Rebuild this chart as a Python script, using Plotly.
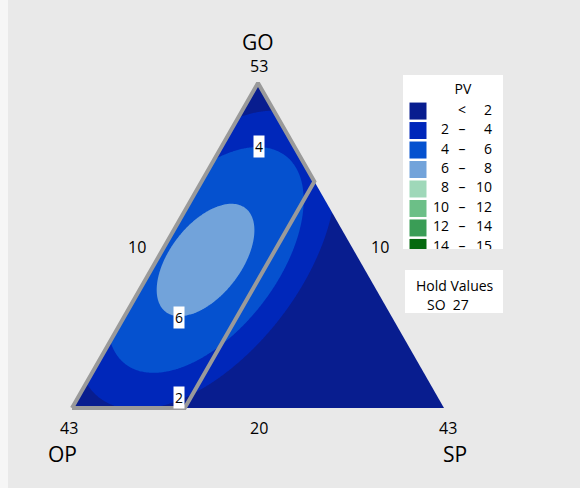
import numpy as np
import plotly.graph_objects as go

# Mixture design: OP + SP + GO with SO held constant
components = ["OP", "SP", "GO"]
lower = [10, 10, 20]          # lower bounds (%)
upper = [43, 43, 53]          # upper bounds (%)
hold_name = "SO"
hold_value = 27
sp_limit = 20                 # SP upper limit of the constrained region

# Fitted Scheffé quadratic model for PV (pseudo-components OP, SP, GO)
b_linear = [0.448, -34.03, -0.205]
b_op_sp = 53.14
b_op_go = 22.55
b_sp_go = 65.35

# Contour bands
band_edges = [2, 4, 6, 8, 10, 12, 14, 15]
band_colors = ["#081d8f", "#0027ba", "#0551cf", "#72a3da",
               "#9fd8b9", "#6cbf87", "#3a9d56", "#05690f"]
contour_labels = [4, 6, 2]

BG = "#e9e9e9"
FONT = "Open Sans"
INK = "#000000"

span = (100 - hold_value) - sum(lower)   # 33


def to_plane(op, sp, go_):
    """Real composition -> ternary plane (u horizontal, v = GO pseudo)."""
    x2 = (sp - lower[1]) / span
    x3 = (go_ - lower[2]) / span
    return x2 + x3 / 2.0, x3


def pv_model(x1, x2, x3):
    return (b_linear[0] * x1 + b_linear[1] * x2 + b_linear[2] * x3
            + b_op_sp * x1 * x2 + b_op_go * x1 * x3 + b_sp_go * x2 * x3)


# Evaluate the fitted surface over the plane
u = np.linspace(0.0, 1.0, 401)
v = np.linspace(0.0, 1.0, 401)
U, V = np.meshgrid(u, v)
X3 = V
X2 = U - V / 2.0
X1 = 1.0 - X2 - X3
Z = pv_model(X1, X2, X3)

n_levels = len(band_edges) - 1
colorscale = [[k / n_levels, c] for k, c in enumerate(band_colors)]

fig = go.Figure()

fig.add_trace(go.Contour(
    x=u, y=v, z=Z,
    contours=dict(start=band_edges[0], end=band_edges[-2], size=2,
                  coloring="fill", showlines=False),
    colorscale=colorscale, showscale=False,
    line=dict(width=0), hoverinfo="skip",
))

# Trim the surface to the simplex
pad = 0.03
for xs, ys in [
    ([0, 0.5, 0.5, -pad, -pad, 0], [0, 1, 1 + pad, 1 + pad, 0, 0]),
    ([1, 0.5, 0.5, 1 + pad, 1 + pad, 1], [0, 1, 1 + pad, 1 + pad, 0, 0]),
]:
    fig.add_trace(go.Scatter(x=xs, y=ys, mode="lines", fill="toself",
                             fillcolor=BG, line=dict(width=0),
                             hoverinfo="skip", showlegend=False))

# Constrained region: SP <= sp_limit
total = 100 - hold_value
pts = [
    (upper[0], lower[1], lower[2]),                       # OP vertex
    (lower[0], lower[1], upper[2]),                       # GO vertex
    (lower[0], sp_limit, total - lower[0] - sp_limit),    # on OP = low edge
    (total - sp_limit - lower[2], sp_limit, lower[2]),    # on GO = low edge
]
pts.append(pts[0])
pu, pv = zip(*[to_plane(*p) for p in pts])
fig.add_trace(go.Scatter(x=pu, y=pv, mode="lines",
                         line=dict(color="#9a9a9a", width=4),
                         hoverinfo="skip", showlegend=False))

# Contour level labels (positions on the plane)
label_pos = {4: (0.5027, 0.8031), 6: (0.2863, 0.2785), 2: (0.2863, 0.0308)}
annotations = []
for lv in contour_labels:
    lx, ly = label_pos[lv]
    annotations.append(dict(x=lx, y=ly, xref="x", yref="y", text=str(lv),
                            showarrow=False, bgcolor="white", borderpad=1,
                            xanchor="center", yanchor="middle",
                            font=dict(family=FONT, size=14, color=INK)))


# Vertex and edge labels
def txt(x, y, s, size, dx=0, dy=0):
    annotations.append(dict(x=x, y=y, xref="x", yref="y", text=s,
                            showarrow=False, xshift=dx, yshift=dy,
                            xanchor="center", yanchor="middle",
                            font=dict(family=FONT, size=size, color=INK)))


txt(0.5, 1.0, components[2], 21, dx=0, dy=41)
txt(0.5, 1.0, str(upper[2]), 16, dx=1, dy=17)
txt(0.0, 0.0, str(upper[0]), 16, dx=-3, dy=-20)
txt(0.0, 0.0, components[0], 21, dx=-10, dy=-46)
txt(1.0, 0.0, str(upper[1]), 16, dx=4, dy=-20)
txt(1.0, 0.0, components[1], 21, dx=11, dy=-46)
txt(0.5, 0.0, str(lower[2]), 16, dx=1, dy=-20)
txt(0.25, 0.5, str(lower[1]), 16, dx=-28, dy=-1)
txt(0.75, 0.5, str(lower[0]), 16, dx=29, dy=-1)

# Hold values box
annotations.append(dict(x=455 / 580, y=1 - 285 / 488, xref="paper", yref="paper",
                        text="Hold Values", showarrow=False,
                        xanchor="center", yanchor="middle",
                        font=dict(family=FONT, size=14, color=INK)))
annotations.append(dict(x=448 / 580, y=1 - 304 / 488, xref="paper", yref="paper",
                        text=f"{hold_name}  {hold_value}", showarrow=False,
                        xanchor="center", yanchor="middle",
                        font=dict(family=FONT, size=14, color=INK)))

# Band legend (own axes so the last row is clipped by the box)
rows = list(range(len(band_colors)))
left_nums = [""] + [str(e) for e in band_edges[:-1]]
mid_marks = ["<"] + ["–"] * (len(band_colors) - 1)
right_nums = [str(e) for e in band_edges]

legend_font = dict(family=FONT, size=14, color=INK)
fig.add_trace(go.Scatter(x=[-5, 105, 105, -5, -5], y=[-3, -3, 9, 9, -3],
                         mode="lines", fill="toself", fillcolor="white",
                         line=dict(width=0), xaxis="x2", yaxis="y2",
                         hoverinfo="skip", showlegend=False))
fig.add_trace(go.Scatter(x=[15] * len(rows), y=rows, mode="markers",
                         marker=dict(symbol="square", size=17,
                                     color=band_colors, line=dict(width=0)),
                         xaxis="x2", yaxis="y2", hoverinfo="skip",
                         showlegend=False))
fig.add_trace(go.Scatter(x=[46] * len(rows), y=rows, mode="text",
                         text=left_nums, textposition="middle left",
                         textfont=legend_font,
                         xaxis="x2", yaxis="y2", hoverinfo="skip",
                         showlegend=False))
fig.add_trace(go.Scatter(x=[59] * len(rows), y=rows, mode="text",
                         text=mid_marks, textposition="middle center",
                         textfont=legend_font,
                         xaxis="x2", yaxis="y2", hoverinfo="skip",
                         showlegend=False))
fig.add_trace(go.Scatter(x=[89] * len(rows), y=rows, mode="text",
                         text=right_nums, textposition="middle left",
                         textfont=legend_font,
                         xaxis="x2", yaxis="y2", hoverinfo="skip",
                         showlegend=False))
fig.add_trace(go.Scatter(x=[60], y=[-1.08], mode="text", text=["PV"],
                         textposition="middle center",
                         textfont=legend_font,
                         xaxis="x2", yaxis="y2", hoverinfo="skip",
                         showlegend=False))

shapes = [
    dict(type="rect", xref="paper", yref="paper",
         x0=405 / 580, x1=503 / 580, y0=1 - 313 / 488, y1=1 - 270 / 488,
         fillcolor="white", line=dict(width=0), layer="above"),
    dict(type="rect", xref="paper", yref="paper",
         x0=0, x1=8 / 580, y0=0, y1=1,
         fillcolor="#f6f6f6", line=dict(width=0), layer="above"),
]

fig.update_layout(
    width=580, height=488,
    margin=dict(l=0, r=0, t=0, b=0),
    paper_bgcolor=BG, plot_bgcolor="rgba(0,0,0,0)",
    showlegend=False,
    xaxis=dict(range=[-72 / 372, 508 / 372], visible=False, fixedrange=True,
               domain=[0, 1]),
    yaxis=dict(range=[-80 / 325, 408 / 325], visible=False, fixedrange=True,
               domain=[0, 1]),
    xaxis2=dict(range=[0, 100], visible=False, domain=[403 / 580, 503 / 580],
                anchor="y2", fixedrange=True),
    yaxis2=dict(range=[7.08, -1.85], visible=False,
                domain=[1 - 249 / 488, 1 - 75 / 488], anchor="x2",
                fixedrange=True),
    annotations=annotations,
    shapes=shapes,
)

fig.write_html("out.html", config={"displayModeBar": False})
